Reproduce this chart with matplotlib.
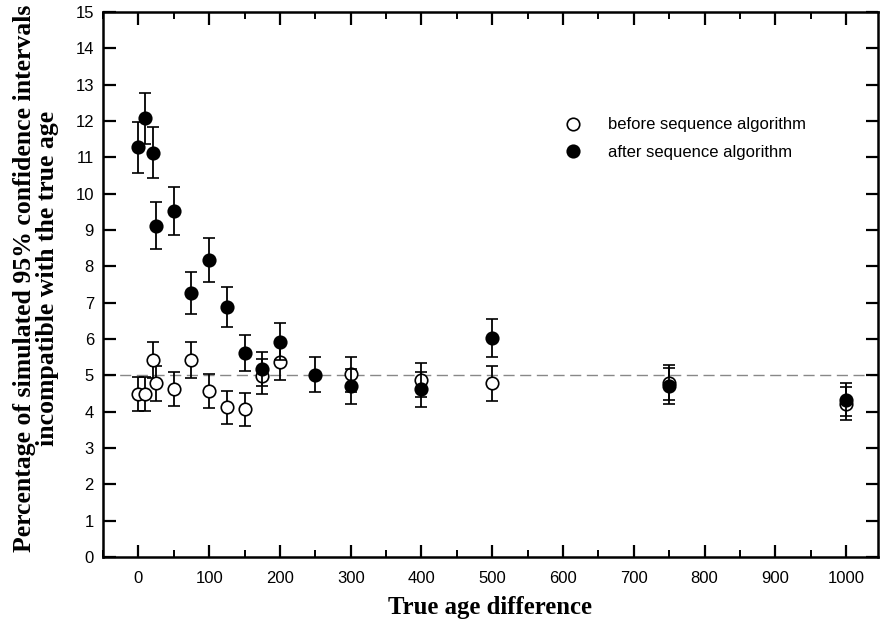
import matplotlib
matplotlib.use("Agg")
import matplotlib.pyplot as plt
from matplotlib.ticker import MultipleLocator
from matplotlib.lines import Line2D

# Data
x_after = [0, 10, 20, 25, 50, 75, 100, 125, 150, 175, 200, 250, 300, 400, 500, 750, 1000]
y_after = [11.28, 12.08, 11.13, 9.12, 9.52, 7.27, 8.17, 6.88, 5.62, 5.17, 5.93, 5.02, 4.70, 4.62, 6.02, 4.70, 4.33]
e_after = [0.70, 0.70, 0.70, 0.64, 0.65, 0.58, 0.60, 0.55, 0.50, 0.47, 0.50, 0.48, 0.48, 0.48, 0.52, 0.50, 0.46]

x_before = [0, 10, 20, 25, 50, 75, 100, 125, 150, 175, 200, 300, 400, 500, 750, 1000]
y_before = [4.48, 4.48, 5.42, 4.78, 4.63, 5.42, 4.57, 4.12, 4.06, 4.97, 5.38, 5.03, 4.87, 4.78, 4.80, 4.22]
e_before = [0.47, 0.47, 0.50, 0.48, 0.47, 0.50, 0.47, 0.45, 0.45, 0.48, 0.50, 0.48, 0.48, 0.48, 0.48, 0.45]

reference_level = 5.0
x_ticks = [0, 100, 200, 300, 400, 500, 600, 700, 800, 900, 1000]
y_ticks = list(range(0, 16))

fig = plt.figure(figsize=(8.81, 6.29), dpi=100)
ax = fig.add_axes([103/881, 1-557/629, (878-103)/881, (557-12)/629])

ax.axhline(reference_level, color="#888888", lw=1.0, ls=(0, (8, 4)), zorder=1)

ax.errorbar(x_before, y_before, yerr=e_before, fmt="o", ms=9, mfc="white", mec="black",
            mew=1.2, ecolor="black", elinewidth=1.3, capsize=4, capthick=1.3, zorder=3)
ax.errorbar(x_after, y_after, yerr=e_after, fmt="o", ms=9, mfc="black", mec="black",
            mew=1.2, ecolor="black", elinewidth=1.3, capsize=4, capthick=1.3, zorder=4)

ax.set_xlim(-50, 1045)
ax.set_ylim(0, 15)
ax.set_xticks(x_ticks)
ax.set_yticks(y_ticks)
ax.xaxis.set_minor_locator(MultipleLocator(50))

tickfont = {"family": "Liberation Sans", "size": 12}
ax.set_xticklabels([str(v) for v in x_ticks], fontdict=tickfont)
ax.set_yticklabels([str(v) for v in y_ticks], fontdict=tickfont)

ax.tick_params(which="major", direction="in", length=9, width=1.6, top=True, right=True)
ax.tick_params(which="minor", direction="in", length=5, width=1.4, top=True, right=True)
ax.tick_params(axis="x", which="major", pad=10)
ax.tick_params(axis="y", which="major", pad=6.5)
for s in ax.spines.values():
    s.set_linewidth(1.8)

ax.set_xlabel("True age difference", family="Liberation Serif", weight="bold", size=17.8, labelpad=7)
ax.set_ylabel("Percentage of simulated 95% confidence intervals\nincompatible with the true age",
              family="Liberation Serif", weight="bold", size=18.5, labelpad=12, linespacing=1.0)
ax.yaxis.label.set_y(0.512)

h1 = Line2D([], [], marker="o", ls="none", ms=9, mfc="white", mec="black", mew=1.2)
h2 = Line2D([], [], marker="o", ls="none", ms=9, mfc="black", mec="black", mew=1.2)
ax.legend([h1, h2], ["before sequence algorithm", "after sequence algorithm"],
          loc="upper left", bbox_to_anchor=(0.565, 0.834), frameon=False,
          prop={"family": "Liberation Sans", "size": 12}, handletextpad=1.1, labelspacing=0.75)

fig.savefig("out.png", dpi=100)
